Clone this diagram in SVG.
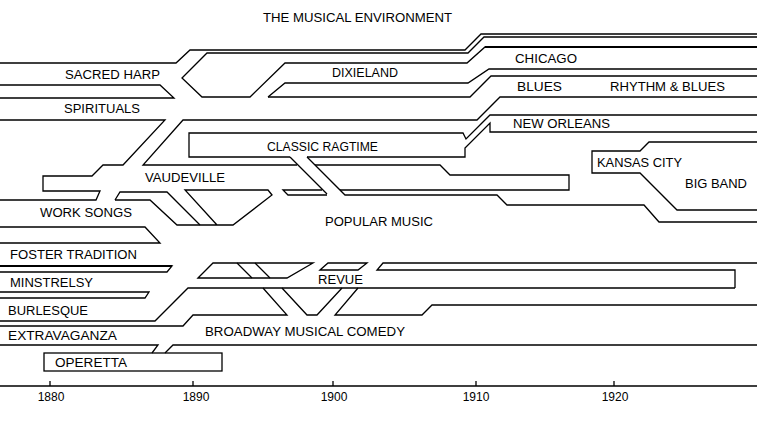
<svg xmlns="http://www.w3.org/2000/svg" width="757" height="424" viewBox="0 0 757 424">
<style>
.ln{fill:none;stroke:#000;stroke-width:1.3;stroke-linejoin:miter}
.tk{fill:none;stroke:#000;stroke-width:2}
.lb{font-family:"Liberation Sans",Arial,sans-serif;font-size:12.5px;fill:#000}
.yr{font-family:"Liberation Sans",Arial,sans-serif;font-size:12px;fill:#000;text-anchor:middle}
</style>
<rect width="757" height="424" fill="#fff"/>
<g id="connectors">
<path class="ln" d="M0,63 L176,63 L190,50 L465,50 L481,34 L757,34"/>
<path class="ln" d="M757,37 L484,37 L468,53 L207,53 L182,78 L202,97 L250,97 L285,63 L467,63 L485,47 L757,47"/>
<path class="tk" d="M485,47 L757,47"/>
<path class="ln" d="M268,97 L285,83 L468,83 L489,69 L757,69"/>
<path class="ln" d="M268,97 L470,97 L491,76 L757,76"/>
<path class="ln" d="M0,85 L160,85 L174,98 L0,98"/>
<path class="ln" d="M757,97 L500,97 L477,120 L183,120 L143,165 L297,165"/>
<path class="ln" d="M0,120 L165,120 L123,165 L103,165 L92,176 L43,176 L43,191 L100,191 L96,200 L0,200"/>
<path class="ln" d="M290,157 L189,157 L189,133 L463,133 L466,139 L490,115 L757,115"/>
<path class="ln" d="M307,157 L465,157 L465,148 L490,123 L490,132 L757,132"/>
<path class="ln" d="M290,157 L327,194"/>
<path class="ln" d="M307,157 L345,195 L497,195 L507,205 L644,205 L659,222 L757,222"/>
<path class="ln" d="M315,165 L440,165 L450,175 L569,175 L569,190 L340,190"/>
<path class="ln" d="M322,190 L283,190 L288,195 L327,195"/>
<path class="ln" d="M115,200 L150,200 L177,225 L233,225 L272,195 L268,190 L185,190 L217,225"/>
<path class="ln" d="M115,200 L120,192 L167,192 L200,225"/>
<path class="ln" d="M757,142 L649,142 L640,151 L592,151 L592,173 L640,173 L677,210 L757,210"/>
<path class="ln" d="M0,227 L145,227 L160,243 L0,243"/>
<path class="ln" d="M0,266 L172,266 L167,272 L0,272"/>
<path class="tk" d="M0,266 L172,266"/>
<path class="ln" d="M198,278 L213,263 L313,263 L287,278 Z"/>
<path class="ln" d="M237,263 L252,278 M255,263 L270,278"/>
<path class="ln" d="M320,270 L328,263 L367,263 L358,270 Z"/>
<path class="ln" d="M757,263 L383,263 L377,270 L735,270 L735,288"/>
<path class="ln" d="M0,292 L149,292 L145,298 L0,298"/>
<path class="ln" d="M0,321 L155,321 L188,288 L735,288"/>
<path class="ln" d="M0,326 L183,326 L193,315 L287,315 L263,288"/>
<path class="ln" d="M282,288 L307,315 L317,315 L342,288"/>
<path class="ln" d="M358,288 L335,315 L422,315 L432,305 L757,305"/>
<path class="ln" d="M0,345 L158,345 L152,353"/>
<path class="ln" d="M165,353 L173,345 L757,345"/>
<rect class="ln" x="44" y="353" width="178" height="18"/>
</g>
<g id="axis">
<path class="ln" d="M0,386 L757,386 M50,381 L50,386 M193,381 L193,386 M333,381 L333,386 M476,381 L476,386 M614,381 L614,386"/>
<text class="yr" x="51" y="401">1880</text>
<text class="yr" x="196" y="401">1890</text>
<text class="yr" x="334" y="401">1900</text>
<text class="yr" x="476" y="401">1910</text>
<text class="yr" x="615" y="401">1920</text>
</g>
<g id="title"><text class="lb" x="263" y="22" textLength="189" lengthAdjust="spacingAndGlyphs">THE MUSICAL ENVIRONMENT</text></g>
<g id="sacred-harp"><text class="lb" x="65" y="79" textLength="95" lengthAdjust="spacingAndGlyphs">SACRED HARP</text></g>
<g id="spirituals"><text class="lb" x="64" y="113" textLength="76" lengthAdjust="spacingAndGlyphs">SPIRITUALS</text></g>
<g id="dixieland"><text class="lb" x="332" y="77" textLength="66" lengthAdjust="spacingAndGlyphs">DIXIELAND</text></g>
<g id="chicago"><text class="lb" x="515" y="63" textLength="62" lengthAdjust="spacingAndGlyphs">CHICAGO</text></g>
<g id="blues"><text class="lb" x="517" y="91" textLength="45" lengthAdjust="spacingAndGlyphs">BLUES</text></g>
<g id="rhythm-blues"><text class="lb" x="610" y="91" textLength="115" lengthAdjust="spacingAndGlyphs">RHYTHM &amp; BLUES</text></g>
<g id="new-orleans"><text class="lb" x="513" y="128" textLength="97" lengthAdjust="spacingAndGlyphs">NEW ORLEANS</text></g>
<g id="classic-ragtime"><text class="lb" x="267" y="151" textLength="111" lengthAdjust="spacingAndGlyphs">CLASSIC RAGTIME</text></g>
<g id="kansas-city"><text class="lb" x="597" y="167" textLength="85" lengthAdjust="spacingAndGlyphs">KANSAS CITY</text></g>
<g id="big-band"><text class="lb" x="685" y="188" textLength="62" lengthAdjust="spacingAndGlyphs">BIG BAND</text></g>
<g id="vaudeville"><text class="lb" x="145" y="182" textLength="80" lengthAdjust="spacingAndGlyphs">VAUDEVILLE</text></g>
<g id="work-songs"><text class="lb" x="40" y="217" textLength="92" lengthAdjust="spacingAndGlyphs">WORK SONGS</text></g>
<g id="popular-music"><text class="lb" x="325" y="226" textLength="108" lengthAdjust="spacingAndGlyphs">POPULAR MUSIC</text></g>
<g id="foster-tradition"><text class="lb" x="10" y="259" textLength="127" lengthAdjust="spacingAndGlyphs">FOSTER TRADITION</text></g>
<g id="minstrelsy"><text class="lb" x="10" y="287" textLength="83" lengthAdjust="spacingAndGlyphs">MINSTRELSY</text></g>
<g id="revue"><text class="lb" x="318" y="284" textLength="45" lengthAdjust="spacingAndGlyphs">REVUE</text></g>
<g id="burlesque"><text class="lb" x="8" y="315" textLength="80" lengthAdjust="spacingAndGlyphs">BURLESQUE</text></g>
<g id="extravaganza"><text class="lb" x="8" y="340" textLength="109" lengthAdjust="spacingAndGlyphs">EXTRAVAGANZA</text></g>
<g id="broadway"><text class="lb" x="205" y="336" textLength="200" lengthAdjust="spacingAndGlyphs">BROADWAY MUSICAL COMEDY</text></g>
<g id="operetta"><text class="lb" x="55" y="367" textLength="72" lengthAdjust="spacingAndGlyphs">OPERETTA</text></g>
</svg>
